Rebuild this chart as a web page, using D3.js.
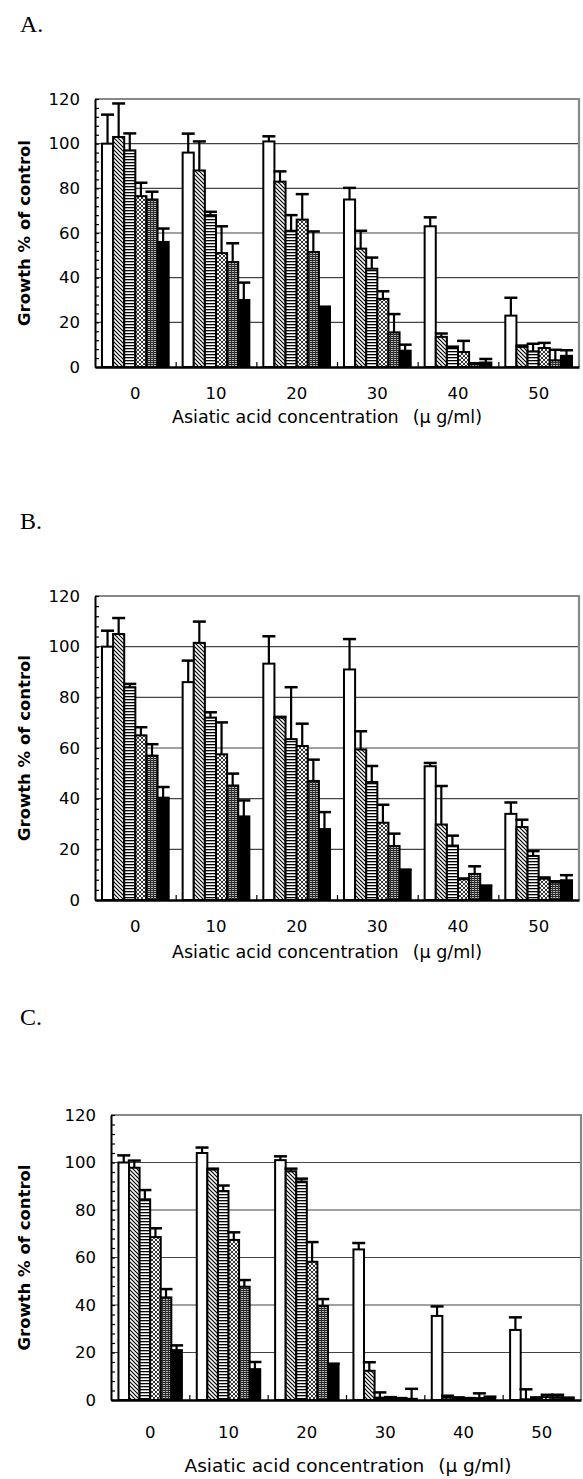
<!DOCTYPE html>
<html>
<head>
<meta charset="utf-8">
<script src="https://cdn.jsdelivr.net/npm/d3@7"></script>
<style>
body { margin: 0; background: #fff; }
svg { display: block; }
</style>
</head>
<body>
<div id="chart"></div>
<script>
const concentrations = ['0', '10', '20', '30', '40', '50'];
const seriesKeys = ['s1', 's2', 's3', 's4', 's5', 's6'];
const yTicks = [0, 20, 40, 60, 80, 100, 120];

// rows = series (white, hatch, lines, cross, grid, black), columns = concentration
const meansA = [
  [100, 96, 101, 75, 63, 23],
  [103, 88, 83, 53, 13.5, 9],
  [97, 68, 61, 44, 8.5, 7],
  [76.5, 51, 66, 30.5, 6.7, 8.5],
  [75, 47, 51.5, 15.5, 1.2, 3],
  [56, 30, 26.5, 7.3, 2, 5]
];
const errsA = [
  [13, 8.5, 2.3, 5.2, 4, 8],
  [15, 13, 4.6, 8, 1.5, 0.6],
  [7.6, 1.5, 7, 5, 0.6, 3.4],
  [6, 12, 11.4, 3.4, 5, 2.3],
  [3.5, 8.4, 9.2, 8.2, 0.5, 4.7],
  [6, 7.8, 0.5, 2.7, 1.6, 2.5]
];

const meansB = [
  [100, 86, 93.3, 91, 52.8, 34],
  [105, 101.5, 72, 59.4, 29.8, 28.8],
  [84, 72, 63.5, 46.6, 21.5, 17.4],
  [65, 57.5, 60.8, 30.5, 8.2, 8.4],
  [57, 45.2, 47, 21.3, 10.3, 6.9],
  [40.4, 33, 28, 11.7, 5.4, 7.8]
];
const errsB = [
  [6.3, 8.5, 10.8, 12, 1.3, 4.5],
  [6.3, 8.4, 0.3, 7.2, 15.2, 2.9],
  [1.3, 2.1, 20.5, 6.3, 3.9, 1.9],
  [3.2, 12.6, 8.8, 7.1, 0.3, 0.5],
  [4.5, 4.7, 8.4, 4.9, 3, 0.5],
  [4.2, 6.3, 6.7, 0.3, 0.3, 2]
];

const meansC = [
  [100, 104, 101, 63.4, 35.4, 29.5],
  [97.8, 97, 96.3, 12.3, 1, 0.3],
  [84.5, 88, 92, 1, 0.8, 0.7],
  [68.6, 67.4, 58.2, 0.8, 0.5, 1.2],
  [43.2, 47.7, 39.6, 0.5, 0.8, 1.2],
  [21, 13, 15, 0.5, 0.8, 0.7]
];
const errsC = [
  [3, 2.3, 1.6, 2.7, 4, 5.3],
  [3, 0.4, 1.1, 3.6, 0.8, 4.2],
  [3.9, 2.3, 1.2, 2.2, 0.3, 0.4],
  [3.7, 3.2, 8.3, 0.4, 0.3, 1],
  [3.5, 2.8, 2.9, 0.3, 2, 1],
  [2, 3, 0.3, 4.2, 0.6, 0.3]
];

const xTitle = 'Asiatic acid concentration';
const xUnit = '(\u03bc g/ml)';
const yTitle = 'Growth % of control';

const panels = [
  { name: 'A.', means: meansA, errs: errsA, box: [95, 99, 579, 367], pad: 0.173, nameY: 32,
    tickOff: 26, titleOff: 50, titleX: 327, titleSize: 17.5 },
  { name: 'B.', means: meansB, errs: errsB, box: [95, 596, 579, 900], pad: 0.173, nameY: 529,
    tickOff: 26, titleOff: 52, titleX: 327, titleSize: 17.5 },
  { name: 'C.', means: meansC, errs: errsC, box: [111, 1115, 581, 1400], pad: 0.19, nameY: 1025,
    tickOff: 32, titleOff: 66, titleX: 348, titleSize: 18.5 }
];

const fills = ['#fff', 'url(#hatch)', 'url(#lines)', 'url(#cross)', 'url(#grid)', '#000'];

const W = 583, H = 1479;
const svg = d3.select('#chart').append('svg').attr('width', W).attr('height', H);

const defs = svg.append('defs');
const hatch = defs.append('pattern').attr('id', 'hatch').attr('patternUnits', 'userSpaceOnUse')
  .attr('width', 4).attr('height', 4);
hatch.append('rect').attr('width', 4).attr('height', 4).attr('fill', '#fff');
hatch.append('path').attr('d', 'M-1,-1L5,5M-1,3L1,5M3,-1L5,1').attr('stroke', '#000').attr('stroke-width', 1.2);

const lines = defs.append('pattern').attr('id', 'lines').attr('patternUnits', 'userSpaceOnUse')
  .attr('width', 4).attr('height', 3);
lines.append('rect').attr('width', 4).attr('height', 3).attr('fill', '#fff');
lines.append('rect').attr('width', 4).attr('height', 1.3).attr('fill', '#000');

const cross = defs.append('pattern').attr('id', 'cross').attr('patternUnits', 'userSpaceOnUse')
  .attr('width', 4).attr('height', 4);
cross.append('rect').attr('width', 4).attr('height', 4).attr('fill', '#fff');
cross.append('path').attr('d', 'M0,0L4,4M4,0L0,4').attr('stroke', '#222').attr('stroke-width', 0.9);

const grid = defs.append('pattern').attr('id', 'grid').attr('patternUnits', 'userSpaceOnUse')
  .attr('width', 3).attr('height', 2);
grid.append('rect').attr('width', 3).attr('height', 2).attr('fill', '#bbb');
grid.append('rect').attr('width', 3).attr('height', 1).attr('fill', '#222');
grid.append('rect').attr('width', 1).attr('height', 2).attr('fill', '#333');

function drawPanel(p) {
  const [l, t, r, b] = p.box;
  const x0 = d3.scaleBand(concentrations, [l, r]).paddingInner(p.pad).paddingOuter(p.pad / 2);
  const x1 = d3.scaleBand(seriesKeys, [0, x0.bandwidth()]);
  const y = d3.scaleLinear([0, 120], [b, t]);
  const xEdge = d3.scaleLinear([0, concentrations.length], [l, r]);
  const g = svg.append('g');

  // panel letter
  g.append('text').attr('x', 20).attr('y', p.nameY)
    .attr('font-family', '"Liberation Serif", "Times New Roman", serif')
    .attr('font-size', 24).text(p.name);

  // gridlines
  g.append('g').selectAll('line').data(yTicks.filter(v => v > 0 && v < 120)).join('line')
    .attr('x1', l).attr('x2', r).attr('y1', d => y(d)).attr('y2', d => y(d))
    .attr('stroke', '#444').attr('stroke-width', 1.2);

  // gray frame top / right
  g.append('path').attr('d', `M${l},${t}H${r}V${b}`)
    .attr('fill', 'none').attr('stroke', '#888').attr('stroke-width', 2.2);

  const rows = seriesKeys.flatMap((k, s) => concentrations.map((c, i) =>
    ({ k, c, s, v: p.means[s][i], e: p.errs[s][i] })));

  // bars
  g.append('g').selectAll('rect').data(rows).join('rect')
    .attr('x', d => x0(d.c) + x1(d.k))
    .attr('y', d => y(d.v))
    .attr('width', x1.bandwidth())
    .attr('height', d => y(0) - y(d.v))
    .attr('fill', d => fills[d.s])
    .attr('stroke', '#000').attr('stroke-width', 2);

  // error bars (upper only)
  const eb = g.append('g').attr('stroke', '#000');
  eb.selectAll('line.stem').data(rows).join('line').attr('class', 'stem')
    .attr('x1', d => x0(d.c) + x1(d.k) + x1.bandwidth() / 2)
    .attr('x2', d => x0(d.c) + x1(d.k) + x1.bandwidth() / 2)
    .attr('y1', d => y(d.v)).attr('y2', d => y(d.v + d.e))
    .attr('stroke-width', 2.2);
  eb.selectAll('line.cap').data(rows).join('line').attr('class', 'cap')
    .attr('x1', d => x0(d.c) + x1(d.k) + x1.bandwidth() / 2 - 6.5)
    .attr('x2', d => x0(d.c) + x1(d.k) + x1.bandwidth() / 2 + 6.5)
    .attr('y1', d => y(d.v + d.e)).attr('y2', d => y(d.v + d.e))
    .attr('stroke-width', 2.5);

  // y axis: inward minor ticks
  const yAxis = g.append('g').attr('transform', `translate(${l},0)`)
    .call(d3.axisLeft(y).tickValues(d3.range(0, 121, 4)).tickSizeInner(-4).tickSizeOuter(0).tickFormat(''));
  yAxis.select('.domain').attr('stroke', '#000').attr('stroke-width', 2);
  yAxis.selectAll('.tick line').attr('stroke', '#000').attr('stroke-width', 1.2);

  // y tick labels
  const yLab = g.append('g').attr('transform', `translate(${l},0)`)
    .call(d3.axisLeft(y).tickValues(yTicks).tickSize(0).tickPadding(15));
  yLab.select('.domain').remove();
  yLab.selectAll('text').attr('font-family', '"DejaVu Sans", sans-serif').attr('font-size', 16.5).attr('fill', '#000');

  // x axis with ticks at group boundaries
  const xAxis = g.append('g').attr('transform', `translate(0,${b})`)
    .call(d3.axisBottom(xEdge).tickValues(d3.range(1, concentrations.length)).tickSizeInner(-5).tickSizeOuter(0).tickFormat(''));
  xAxis.select('.domain').attr('stroke', '#000').attr('stroke-width', 2.5);
  xAxis.selectAll('.tick line').attr('stroke', '#000').attr('stroke-width', 1.2);

  // x tick labels
  const xLab = g.append('g').attr('transform', `translate(0,${b + p.tickOff})`)
    .call(d3.axisBottom(x0).tickSize(0).tickPadding(0));
  xLab.select('.domain').remove();
  xLab.selectAll('text').attr('dy', '0.35em')
    .attr('font-family', '"DejaVu Sans", sans-serif').attr('font-size', 16.5).attr('fill', '#000');

  // axis titles
  const title = g.append('text').attr('x', p.titleX).attr('y', b + p.titleOff).attr('dy', '0.35em')
    .attr('text-anchor', 'middle').attr('font-family', '"DejaVu Sans", sans-serif').attr('font-size', p.titleSize);
  title.append('tspan').text(xTitle);
  title.append('tspan').attr('dx', 14).text(xUnit);

  g.append('text').attr('transform', `translate(30,${(t + b) / 2}) rotate(-90)`)
    .attr('text-anchor', 'middle').attr('font-family', '"DejaVu Sans", sans-serif')
    .attr('font-weight', 'bold').attr('font-size', 16.5).text(yTitle);
}

panels.forEach(drawPanel);
</script>
</body>
</html>
